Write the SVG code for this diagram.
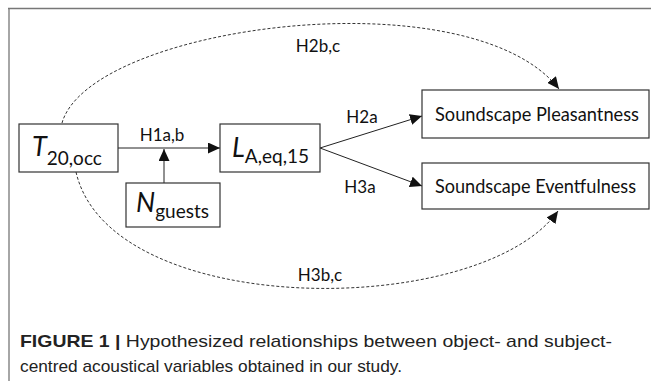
<svg xmlns="http://www.w3.org/2000/svg" width="651" height="381" viewBox="0 0 651 381">
<style>
.box{fill:#fff;stroke:#333;stroke-width:1.2}
.t{font-family:Lato,"Open Sans",sans-serif;fill:#111}
.lab{font-size:17px}
.bl{font-size:19px}
.big{font-size:27px;font-style:italic}
.sub{font-size:19px}
.line{fill:none;stroke:#222;stroke-width:1}
.dash{fill:none;stroke:#333;stroke-width:1;stroke-dasharray:3 2}
.cap{font-family:"Liberation Sans",Arial,sans-serif;font-size:17px;fill:#222}
</style>
<defs>
<marker id="ah" markerUnits="userSpaceOnUse" markerWidth="13" markerHeight="11" refX="12" refY="5.5" orient="auto">
<path d="M0,0 L12,5.5 L0,11 Z" fill="#111"/>
</marker>
</defs>
<rect width="651" height="381" fill="#fff"/>
<g id="frame">
<path d="M8,8.5 H651 M9,8.5 V381" stroke="#777" stroke-width="1.3" fill="none"/>
</g>
<g id="connectors">
<path class="line" d="M118,148 H220" marker-end="url(#ah)"/>
<path class="line" d="M164,183 V149" marker-end="url(#ah)"/>
<path class="line" d="M320,148 L422,116" marker-end="url(#ah)"/>
<path class="line" d="M320,148 L422,186" marker-end="url(#ah)"/>
<path class="dash" d="M62,123 C90,25 470,-25 559,89" marker-end="url(#ah)"/>
<path class="dash" d="M76,172 C110,320 480,320 558,211" marker-end="url(#ah)"/>
<text class="t lab" x="162" y="141" text-anchor="middle">H1a,b</text>
<text class="t lab" x="362" y="123" text-anchor="middle">H2a</text>
<text class="t lab" x="360" y="193" text-anchor="middle">H3a</text>
<text class="t lab" x="318" y="52" text-anchor="middle">H2b,c</text>
<text class="t lab" x="320" y="281" text-anchor="middle">H3b,c</text>
</g>
<g id="T">
<rect class="box" x="19" y="124" width="99" height="48"/>
<text class="t" x="32" y="156"><tspan class="big">T</tspan><tspan class="sub" dy="9">20,occ</tspan></text>
</g>
<g id="L">
<rect class="box" x="220" y="124" width="100" height="48"/>
<text class="t" x="232" y="157"><tspan class="big">L</tspan><tspan class="sub" dy="6">A,eq,15</tspan></text>
</g>
<g id="N">
<rect class="box" x="126" y="183" width="94" height="44"/>
<text class="t" x="136" y="212"><tspan class="big">N</tspan><tspan class="sub" dy="6">guests</tspan></text>
</g>
<g id="P">
<rect class="box" x="422" y="90" width="227" height="48"/>
<text class="t bl" x="435" y="121" textLength="204" lengthAdjust="spacingAndGlyphs">Soundscape Pleasantness</text>
</g>
<g id="E">
<rect class="box" x="422" y="163" width="227" height="46"/>
<text class="t bl" x="435" y="193" textLength="201" lengthAdjust="spacingAndGlyphs">Soundscape Eventfulness</text>
</g>
<g id="caption">
<text class="cap" x="20" y="347" textLength="592" lengthAdjust="spacingAndGlyphs"><tspan font-weight="bold">FIGURE 1 |</tspan> Hypothesized relationships between object- and subject-</text>
<text class="cap" x="20" y="372" textLength="382" lengthAdjust="spacingAndGlyphs">centred acoustical variables obtained in our study.</text>
</g>
</svg>
